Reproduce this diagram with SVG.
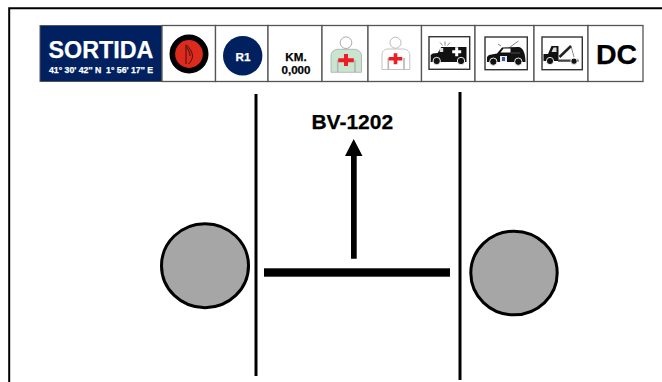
<svg xmlns="http://www.w3.org/2000/svg" width="662" height="382" viewBox="0 0 662 382">
<style>
text{font-family:"Liberation Sans",Arial,sans-serif;font-weight:700;text-anchor:middle;fill:#000;stroke:#000;stroke-width:.25}
.inv{fill:#fff;stroke:#fff}
.cell{fill:#fff;stroke:#555;stroke-width:1.3}
.box{fill:#fff;stroke:#333;stroke-width:1.4}
.k{fill:#111}
.wh{fill:#111;stroke:#fff;stroke-width:.9}
.ball{fill:#a6a6a6;stroke:#000;stroke-width:3}
.rule{stroke:#000;stroke-width:3}
.bar{fill:#000}
.gr{stroke:#b5b5b5;stroke-width:1.6;fill:none}
.cross{fill:#ee1c25}
</style>
<rect width="662" height="382" fill="#fff"/>
<path d="M9.2 382V8.3H662" fill="none" stroke="#000" stroke-width="2"/>
<g id="sortida">
<rect x="40" y="25.500" width="122" height="56" fill="#00205f" stroke="#555" stroke-width="1"/>
<text class="inv" x="101" y="58.300" font-size="23.300">SORTIDA</text>
<text class="inv" x="101" y="72.500" font-size="8.200" textLength="104" lengthAdjust="spacingAndGlyphs" xml:space="preserve">41° 30' 42'' N  1° 56' 17'' E</text>
</g>
<g id="icon-sign">
<rect class="cell" x="162" y="25.500" width="53.500" height="56"/>
<circle cx="189" cy="54" r="16.700" fill="#dc2a1c" stroke="#000" stroke-width="5.600"/>
<path d="M186 44.500V64M186.500 45c3 3 6 7 6 11 0 3-2 6-4 8M186.500 47c2 3 3.500 6 3.500 9" fill="none" stroke="#311" stroke-width=".9"/>
</g>
<g id="icon-r1">
<rect class="cell" x="215.500" y="25.500" width="52.500" height="56"/>
<circle cx="242.700" cy="55.700" r="19.700" fill="#00205f"/>
<text class="inv" x="243" y="60.500" font-size="11.700">R1</text>
</g>
<g id="km">
<rect class="cell" x="268" y="25.500" width="54" height="56"/>
<text x="296" y="60.700" font-size="11.600">KM.</text>
<text x="296" y="74.300" font-size="11.600">0,000</text>
</g>
<g id="icon-medic-green">
<rect class="cell" x="322" y="25.500" width="46" height="56"/>
<circle cx="346" cy="42.700" r="5.800" fill="#fff" stroke="#aaa" stroke-width="1"/>
<path d="M331 72.300V56c0-4 3-6.700 7-6.700h16c4 0 7.500 2.700 7.500 6.700v16.300z" fill="#c9e5d0" stroke="#aaa" stroke-width=".8"/>
<path class="gr" d="M337.700 60v12M355 60v12"/>
<path class="cross" d="M344 54h4v4.200h5.800v4H348V66h-4v-3.800h-5.800v-4h5.800z"/>
</g>
<g id="icon-medic-white">
<rect class="cell" x="368" y="25.500" width="53.500" height="56"/>
<circle cx="395.500" cy="42.700" r="5.500" fill="#fff" stroke="#bbb" stroke-width="1"/>
<path d="M382 69.500V55c0-3.500 2.500-6 6-6h15c4 0 6.800 2.500 6.800 6v14.500z" fill="#fff" stroke="#bbb" stroke-width=".9"/>
<path class="gr" d="M388.300 58v11.500M404 58v11.500"/>
<path class="cross" d="M393.700 53.200h3.600v3.800h5v3.500h-5v3.800h-3.600v-3.800h-5V57h5z"/>
</g>
<g id="icon-ambulance">
<rect class="cell" x="421.500" y="25.500" width="53.500" height="56"/>
<rect class="box" x="429" y="36.700" width="40.700" height="32.600"/>
<path class="k" d="M430.700 62v-7l2-1.500 5-.5 3.500-6h25.300v15z"/>
<rect x="439.700" y="48" width="3.500" height="4" fill="#ddd"/>
<path d="M455.200 47.200h3v3h3v3h-3v3h-3v-3h-3v-3h3z" fill="#fff"/>
<circle class="wh" cx="436.700" cy="61" r="3.700"/>
<circle class="wh" cx="461" cy="61" r="3.700"/>
<path d="M445 45.500v-4M442.500 45.500l-2.500-3M447.500 45.500l2.500-3" stroke="#555" stroke-width=".7" fill="none"/>
</g>
<g id="icon-police">
<rect class="cell" x="475" y="25.500" width="59" height="56"/>
<rect class="box" x="485" y="37" width="42.300" height="32.700"/>
<path class="k" d="M487 62v-5l2-2 8-1.500 5-6 17-.5c4 1 6.500 6 6.500 15z"/>
<path d="M500.500 52.500l3-4h7v4z" fill="#fff"/>
<rect x="500" y="56" width="7" height="6" fill="#e8ecf4"/>
<rect x="502" y="57" width="3" height="4" fill="#3a5a9a"/>
<path d="M510 47l8.500-6M501 46l-3-2" stroke="#555" stroke-width=".7" fill="none"/>
<path d="M511 53h9" stroke="#777" stroke-width=".6"/>
<circle class="wh" cx="493.300" cy="61.700" r="3.700"/>
<circle class="wh" cx="518.300" cy="61.700" r="3.700"/>
</g>
<g id="icon-tow">
<rect class="cell" x="534" y="25.500" width="54" height="56"/>
<rect class="box" x="542" y="37" width="40.300" height="32.700"/>
<path class="k" d="M543.500 61v-7h4.500l3.500-8h7v15z"/>
<path d="M553.500 47.500h3v4.500h-5z" fill="#ddd"/>
<path d="M558 59.500h20.500v2.300H558z" fill="#444"/>
<path d="M559.500 57l11.500-11" stroke="#222" stroke-width="2.500"/>
<path d="M571 46l3 11" stroke="#555" stroke-width=".7"/>
<circle class="wh" cx="550" cy="61" r="3.600"/>
<circle class="wh" cx="574" cy="61.200" r="3.200"/>
</g>
<g id="dc">
<rect class="cell" x="588" y="25.500" width="55" height="56"/>
<text x="616.500" y="64" font-size="28.500">DC</text>
</g>
<g id="road">
<path class="rule" d="M256 94V376"/>
<path class="rule" d="M460 92V380"/>
<rect class="bar" x="264" y="268.300" width="186" height="8.400"/>
</g>
<g id="roundabout-left"><ellipse class="ball" cx="205" cy="265.700" rx="43.500" ry="42"/></g>
<g id="roundabout-right"><ellipse class="ball" cx="514" cy="273" rx="43.200" ry="41.800"/></g>
<g id="connectors">
<path d="M351 258.700V156H345L353.700 139 362.500 156H356.700V258.700z" fill="#000"/>
</g>
<g id="label"><text x="352.300" y="129" font-size="21">BV-1202</text></g>
</svg>
